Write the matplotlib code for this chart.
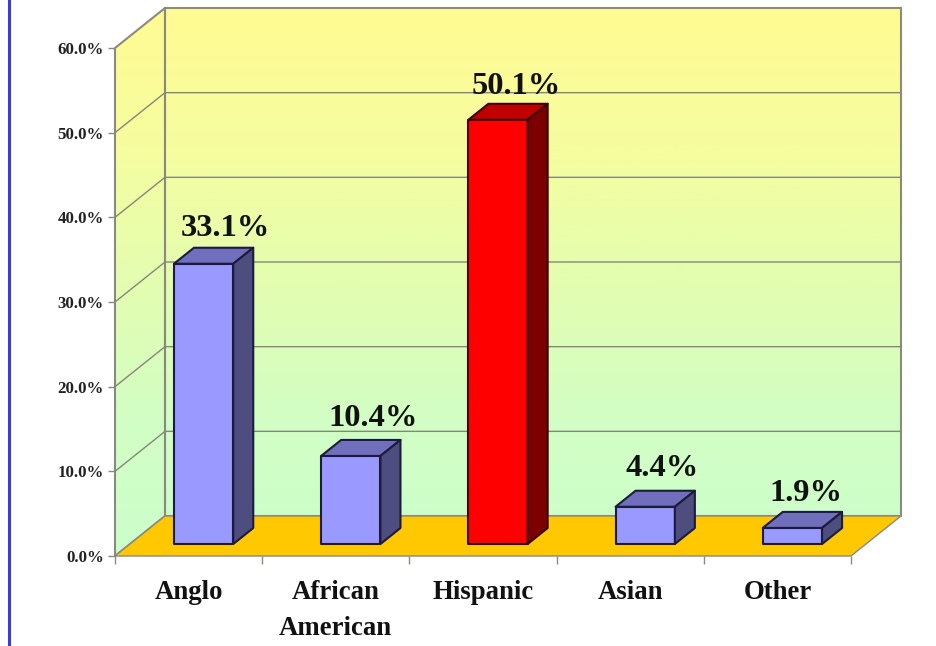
import matplotlib.pyplot as plt
import numpy as np
from matplotlib.colors import LinearSegmentedColormap
from matplotlib.patches import Polygon

categories = ['Anglo', 'African\nAmerican', 'Hispanic', 'Asian', 'Other']
values = [33.1, 10.4, 50.1, 4.4, 1.9]
value_labels = ['33.1%', '10.4%', '50.1%', '4.4%', '1.9%']
y_ticks = [0, 10, 20, 30, 40, 50, 60]
y_tick_labels = ['0.0%', '10.0%', '20.0%', '30.0%', '40.0%', '50.0%', '60.0%']

plt.rcParams['font.family'] = ['Liberation Serif', 'DejaVu Serif']
plt.rcParams['font.weight'] = 'bold'

# -----------------------Colors-----------------------
wall_grey = '#8A8A80'
grid_grey = '#85877A'
floor_gold = '#FFC800'
frame_blue = '#3A3ADC'
blue_front, blue_top, blue_side = '#9999FF', '#6F6FBE', '#4D4D80'
red_front, red_top, red_side = '#FF0000', '#C00000', '#7D0000'
bar_edge = '#1C1C3A'
red_edge = '#3A0505'

# -----------------------Fig configuration-----------------------
W, H = 937, 646
fig = plt.figure(figsize=(W / 100, H / 100), dpi=100)
ax = fig.add_axes([115 / W, (H - 556) / H, 736 / W, 508 / H])
ax.set_facecolor('none')

x_min, x_max = -0.5, 4.5
y_min, y_max = 0, 60
# depth of the fake 3d box, in data units
dx = 50 / 147.2
dy = 40 / 8.467
bar_width = 0.403

# -----------------------Walls and floor-----------------------
wall_cmap = LinearSegmentedColormap.from_list(
    'wall', ['#CCFFCC', '#D2FEC4', '#E4FDB0', '#F6FD9F', '#FFFB92'])
gradient = np.linspace(0, 1, 256).reshape(-1, 1)

back = [(x_min + dx, dy), (x_max + dx, dy), (x_max + dx, y_max + dy), (x_min + dx, y_max + dy)]
side = [(x_min, y_min), (x_min + dx, dy), (x_min + dx, y_max + dy), (x_min, y_max)]
floor = [(x_min, y_min), (x_max, y_min), (x_max + dx, dy), (x_min + dx, dy)]

for wall in (back, side):
    patch = Polygon(wall, closed=True, facecolor='none', edgecolor=wall_grey, linewidth=1.5,
                    clip_on=False, zorder=2)
    ax.add_patch(patch)
    im = ax.imshow(gradient, cmap=wall_cmap, origin='lower', aspect='auto', zorder=1,
                   extent=(x_min, x_max + dx, y_min, y_max + dy))
    im.set_clip_box(fig.bbox)
    im.set_clip_path(patch)

for tick in y_ticks[1:-1]:
    ax.plot([x_min, x_min + dx, x_max + dx], [tick, tick + dy, tick + dy],
            color=grid_grey, linewidth=1, clip_on=False, zorder=2)

ax.add_patch(Polygon(floor, closed=True, facecolor=floor_gold, edgecolor=wall_grey,
                     linewidth=1, clip_on=False, zorder=3))

# -----------------------Bars-----------------------
# label offsets in points, the original labels were placed by hand
label_dx = [1.5, 1.5, -1.5, -2.5, -5]
label_dy = [8.5, 10, 7, 10.5, 8]
for i, value in enumerate(values):
    front, top, right = (red_front, red_top, red_side) if i == 2 else (blue_front, blue_top, blue_side)
    edge = red_edge if i == 2 else bar_edge
    x0 = i - bar_width / 2 + 0.3 * dx
    x1 = x0 + bar_width
    y0 = 0.3 * dy
    y1 = y0 + value
    ox, oy = 0.4 * dx, 0.4 * dy
    faces = [
        ([(x0, y0), (x1, y0), (x1, y1), (x0, y1)], front),
        ([(x0, y1), (x1, y1), (x1 + ox, y1 + oy), (x0 + ox, y1 + oy)], top),
        ([(x1, y0), (x1 + ox, y0 + oy), (x1 + ox, y1 + oy), (x1, y1)], right),
    ]
    for verts, color in faces:
        ax.add_patch(Polygon(verts, closed=True, facecolor=color, edgecolor=edge, linewidth=1.5,
                             joinstyle='round', clip_on=False, zorder=4))
    ax.annotate(value_labels[i], xy=((x0 + x1) / 2 + ox, y1 + oy), xytext=(label_dx[i], label_dy[i]),
                textcoords='offset points', ha='center', va='baseline',
                fontsize=23.4, color='#111111', zorder=5, annotation_clip=False)

# -----------------------Axes-----------------------
ax.set_xlim(x_min, x_max)
ax.set_ylim(y_min, y_max)
for name in ('top', 'right', 'left', 'bottom'):
    ax.spines[name].set_visible(False)

ax.set_yticks(y_ticks)
ax.set_yticklabels(y_tick_labels, fontsize=12.2, color='#222222')
ax.tick_params(axis='y', length=5, width=1, color=wall_grey, pad=3)

ax.set_xticks(np.arange(x_min, x_max + 1))
ax.set_xticklabels([])
ax.tick_params(axis='x', which='major', length=6, width=1, color=wall_grey)
ax.set_xticks(np.arange(len(categories)), minor=True)
ax.set_xticklabels(categories, minor=True, fontsize=19.3, color='#111111', linespacing=1.6)
ax.tick_params(axis='x', which='minor', length=0, pad=17)

# blue slide border on the left
fig.add_artist(plt.Line2D([9.5 / W, 9.5 / W], [0, 1], color=frame_blue, linewidth=2.2))

plt.savefig('out.png', dpi=100)
